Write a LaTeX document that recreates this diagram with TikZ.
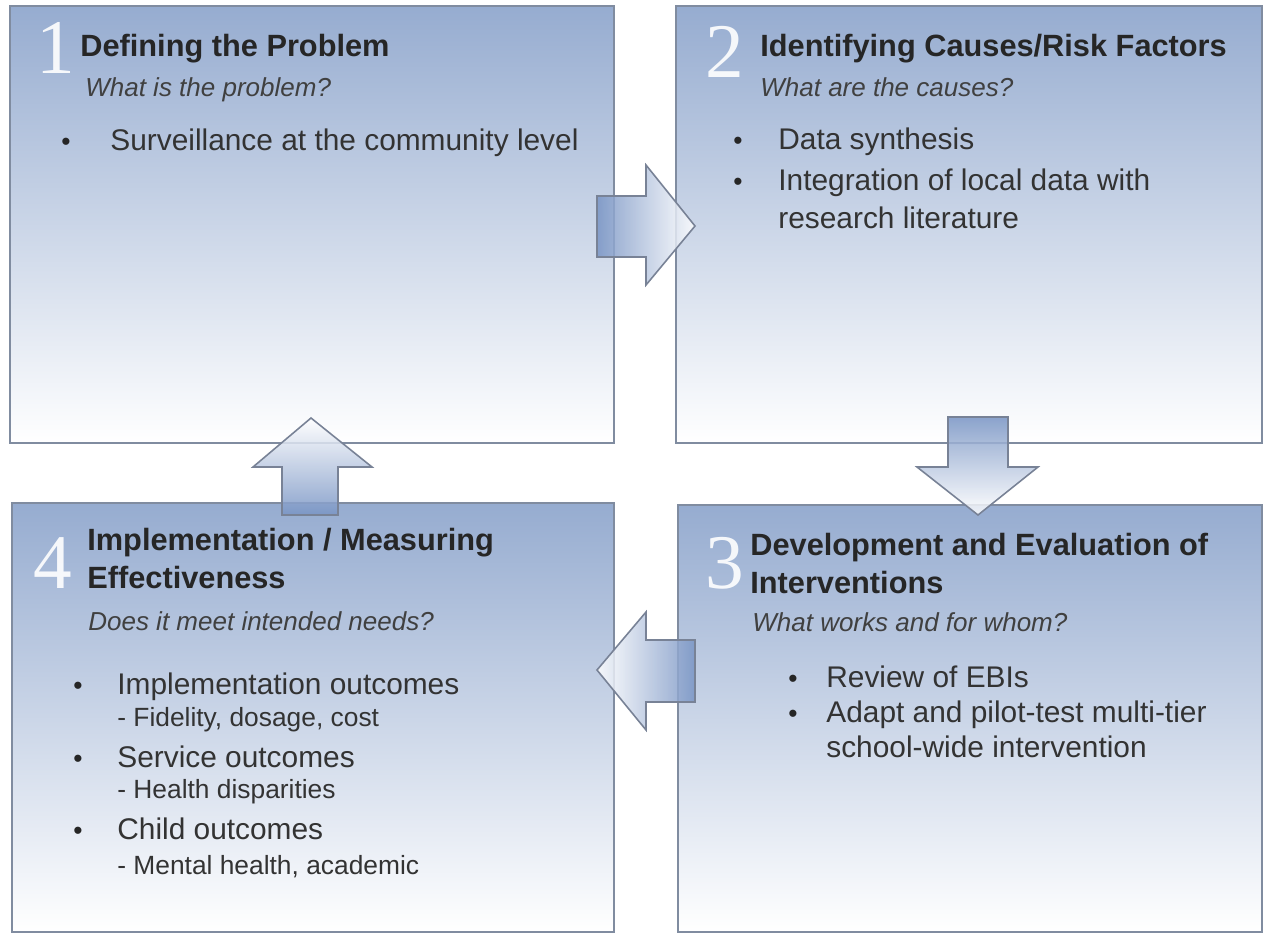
\documentclass[tikz,border=0pt]{standalone}
\usepackage{fontspec}
\setmainfont{Liberation Sans}
\newfontfamily\numfont{Liberation Serif}
\definecolor{boxtop}{RGB}{150,172,208}
\definecolor{boxline}{RGB}{128,140,160}
\definecolor{arrowblue}{RGB}{120,148,196}
\definecolor{arrowline}{RGB}{120,130,150}

\begin{document}
\begin{tikzpicture}[x=0.02cm,y=-0.02cm,
  box/.style={draw=boxline,line width=0.9pt,top color=boxtop,bottom color=white,inner sep=0pt},
  num/.style={anchor=base west,inner sep=0pt,text=white,text opacity=0.9,font=\numfont\fontsize{44}{44}\selectfont},
  ttl/.style={anchor=base west,inner sep=0pt,align=left,text=black!85,font=\fontsize{17.5}{21.6}\selectfont\bfseries},
  que/.style={anchor=base west,inner sep=0pt,text=black!75,font=\fontsize{14.8}{18}\selectfont\itshape},
  itm/.style={anchor=base west,inner sep=0pt,align=left,text=black!80,font=\fontsize{17}{20}\selectfont},
  sub/.style={anchor=base west,inner sep=0pt,text=black!80,font=\fontsize{15}{18}\selectfont},
  dot/.style={anchor=base,inner sep=0pt,text=black!85,font=\fontsize{15}{18}\selectfont},
  blockarrow/.style={draw=arrowline,line width=0.9pt,line join=miter,fill opacity=0.85}]
\useasboundingbox[fill=white] (0,0) rectangle (1267,936);

% the four boxes
\node[box,minimum width=12.08cm,minimum height=8.74cm] (b1) at (312,224.5) {};
\node[box,minimum width=11.72cm,minimum height=8.74cm] (b2) at (969,224.5) {};
\node[box,minimum width=11.68cm,minimum height=8.54cm] (b3) at (970,718.5) {};
\node[box,minimum width=12.04cm,minimum height=8.58cm] (b4) at (313,717.5) {};

% block arrows
\shade[blockarrow,left color=arrowblue,right color=white]
  (597,196) -- (646,196) -- (646,165) -- (695,226) -- (646,285) -- (646,257) -- (597,257) -- cycle;
\shade[blockarrow,top color=arrowblue,bottom color=white]
  (948,417) -- (1008,417) -- (1008,467) -- (1038,467) -- (978,515) -- (917,467) -- (948,467) -- cycle;
\shade[blockarrow,right color=arrowblue,left color=white]
  (695,640) -- (646,640) -- (646,612) -- (597,670) -- (646,730) -- (646,702) -- (695,702) -- cycle;
\shade[blockarrow,bottom color=arrowblue,top color=white]
  (282,515) -- (282,467) -- (253,467) -- (311,418) -- (372,467) -- (338,467) -- (338,515) -- cycle;

% box 1
\node[num] (n1) at (36,73) {1};
\node[ttl] (t1) at (80,57) {Defining the Problem};
\node[que] (q1) at (85,96) {What is the problem?};
\node[dot] (d1a) at (66,151) {\textbullet};
\node[itm] (i1a) at (110,151) {Surveillance at the community level};

% box 2 (two-line nodes sit on their last line)
\node[num] (n2) at (705,78) {2};
\node[ttl] (t2) at (760,57) {Identifying Causes/Risk Factors};
\node[que] (q2) at (760,96) {What are the causes?};
\node[dot] (d2a) at (738,150) {\textbullet};
\node[itm] (i2a) at (778,150) {Data synthesis};
\node[dot] (d2b) at (738,190) {\textbullet};
\node[itm,font=\fontsize{17}{21.6}\selectfont] (i2b) at (778,228) {Integration of local data with\\research literature};

% box 3
\node[num] (n3) at (705,588) {3};
\node[ttl] (t3) at (750,593) {Development and Evaluation of\\Interventions};
\node[que] (q3) at (752,631) {What works and for whom?};
\node[dot] (d3a) at (793,687) {\textbullet};
\node[itm] (i3a) at (826,687) {Review of EBIs};
\node[dot] (d3b) at (793,722) {\textbullet};
\node[itm,font=\fontsize{17}{19.9}\selectfont] (i3b) at (826,757) {Adapt and pilot-test multi-tier\\school-wide intervention};

% box 4
\node[num] (n4) at (33,588) {4};
\node[ttl] (t4) at (87,588) {Implementation / Measuring\\Effectiveness};
\node[que] (q4) at (88,630) {Does it meet intended needs?};
\node[dot] (d4a) at (78,694) {\textbullet};
\node[itm] (i4a) at (117,694) {Implementation outcomes};
\node[sub] (s4a) at (117,726) {- Fidelity, dosage, cost};
\node[dot] (d4b) at (78,767) {\textbullet};
\node[itm] (i4b) at (117,767) {Service outcomes};
\node[sub] (s4b) at (117,798) {- Health disparities};
\node[dot] (d4c) at (78,839) {\textbullet};
\node[itm] (i4c) at (117,839) {Child outcomes};
\node[sub] (s4c) at (117,874) {- Mental health, academic};
\end{tikzpicture}
\end{document}
